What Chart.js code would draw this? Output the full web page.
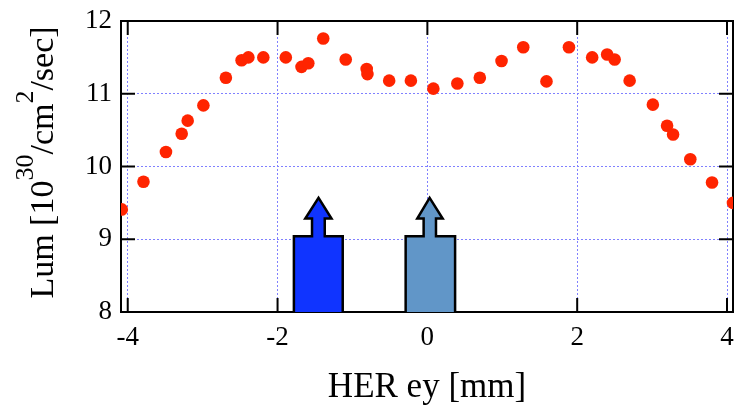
<!DOCTYPE html>
<html><head><meta charset="utf-8">
<script src="https://cdn.jsdelivr.net/npm/chart.js@4/dist/chart.umd.min.js"></script>
<style>html,body{margin:0;padding:0;background:#fff;} #wrap{width:737px;height:409px;}</style>
</head><body><div id="wrap"><canvas id="c" width="737" height="409"></canvas></div>
<script>
// ---- data ----
const herEy = [-4.08,-3.79,-3.49,-3.28,-3.20,-2.99,-2.69,-2.48,-2.39,-2.19,-1.89,-1.68,-1.59,-1.39,-1.09,-0.81,-0.80,-0.51,-0.22,0.08,0.40,0.70,0.99,1.28,1.59,1.89,2.20,2.40,2.50,2.70,3.01,3.20,3.28,3.51,3.80,4.08];
const lum   = [9.41,9.79,10.20,10.45,10.63,10.84,11.22,11.46,11.50,11.50,11.50,11.37,11.42,11.76,11.47,11.34,11.27,11.18,11.18,11.07,11.14,11.22,11.45,11.64,11.17,11.64,11.50,11.54,11.47,11.18,10.85,10.56,10.44,10.10,9.78,9.50];
const arrowAX = [-1.782,-1.782,-1.54,-1.54,-1.63,-1.453,-1.28,-1.37,-1.37,-1.13,-1.13];
const arrowAY = [8,9.04,9.04,9.285,9.285,9.57,9.285,9.285,9.04,9.04,8];
const arrowBX = [-0.29,-0.29,-0.05,-0.05,-0.135,0.03,0.204,0.115,0.115,0.37,0.37];
const arrowBY = [8,9.04,9.04,9.285,9.285,9.57,9.285,9.285,9.04,9.04,8];
const xTicks = [-4,-2,0,2,4];
const xTickLabels = ['-4','-2','0','2','4'];
const yTicks = [8,9,10,11,12];
const yTickLabels = ['8','9','10','11','12'];
const xTitle = 'HER ey [mm]';
const yTitleParts = [['Lum [10',0],['30',1],['/cm',0],['2',1],['/sec]',0]];

const pts = (xs, ys) => xs.map((v,i)=>({x:v,y:ys[i]}));
const FONT = 'Liberation Serif';

const framePlugin = {
  id:'frame',
  beforeDatasetsDraw(chart){
    const {ctx, chartArea:a, scales:{x,y}} = chart;
    ctx.save(); ctx.strokeStyle='#000'; ctx.lineWidth=2;
    ctx.strokeRect(a.left,a.top,a.right-a.left,a.bottom-a.top);
    ctx.beginPath();
    xTicks.forEach(v=>{const px=x.getPixelForValue(v);
      ctx.moveTo(px,a.bottom); ctx.lineTo(px,a.bottom-14);
      ctx.moveTo(px,a.top); ctx.lineTo(px,a.top+14);});
    yTicks.forEach(v=>{const py=y.getPixelForValue(v);
      ctx.moveTo(a.left,py); ctx.lineTo(a.left+14,py);
      ctx.moveTo(a.right,py); ctx.lineTo(a.right-14,py);});
    ctx.stroke(); ctx.restore();
  }
};
const yTitlePlugin = {
  id:'ytitle',
  afterDraw(chart){
    const ctx=chart.ctx; ctx.save();
    const main='34px "'+FONT+'"', sup='26px "'+FONT+'"';
    let total=0;
    const widths = yTitleParts.map(([t,s])=>{ctx.font=s?sup:main; const w=ctx.measureText(t).width; total+=w; return w;});
    const cy=(chart.chartArea.top+chart.chartArea.bottom)/2 - 4;
    ctx.translate(53, cy); ctx.rotate(-Math.PI/2);
    ctx.fillStyle='#000'; ctx.textBaseline='alphabetic'; ctx.textAlign='left';
    let xx=-total/2;
    yTitleParts.forEach(([t,s],i)=>{ctx.font=s?sup:main; ctx.fillText(t,xx,s?-20:0); xx+=widths[i];});
    ctx.restore();
  }
};

new Chart(document.getElementById('c'), {
  type:'line',
  data:{datasets:[
    {data:pts(herEy,lum), showLine:false, pointRadius:6.3, pointHoverRadius:6.3, pointBackgroundColor:'rgb(255,36,0)', pointBorderWidth:0, borderWidth:0, backgroundColor:'rgb(255,36,0)'},
    {data:pts(arrowAX,arrowAY), showLine:true, fill:'start', backgroundColor:'rgb(16,52,255)', borderColor:'#000', borderWidth:2.5, pointRadius:0, tension:0, borderJoinStyle:'miter'},
    {data:pts(arrowBX,arrowBY), showLine:true, fill:'start', backgroundColor:'rgb(97,150,200)', borderColor:'#000', borderWidth:2.5, pointRadius:0, tension:0, borderJoinStyle:'miter'}
  ]},
  options:{
    responsive:false, animation:false, devicePixelRatio:1,
    layout:{autoPadding:false, padding:{top:21,right:4,bottom:0,left:0}},
    plugins:{legend:{display:false}, tooltip:{enabled:false}},
    scales:{
      x:{type:'linear', min:-4.09, max:4.08,
        afterBuildTicks:s=>{s.ticks=xTicks.map(v=>({value:v}));},
        afterFit:s=>{s.height=97; s.paddingLeft=0; s.paddingRight=0;},
        grid:{color:'rgb(128,128,255)', lineWidth:1, drawTicks:false},
        border:{display:false, dash:[2,2]},
        ticks:{font:{family:FONT,size:27}, color:'#000', padding:10, maxRotation:0,
          callback:(v)=>xTickLabels[xTicks.indexOf(v)]},
        title:{display:true, text:xTitle, color:'#000', font:{family:FONT,size:35,lineHeight:1.2}, padding:{top:0,bottom:0}}
      },
      y:{type:'linear', min:8, max:12,
        afterBuildTicks:s=>{s.ticks=yTicks.map(v=>({value:v}));},
        afterFit:s=>{s.width=121; s.paddingTop=0; s.paddingBottom=0;},
        grid:{color:'rgb(128,128,255)', lineWidth:1, drawTicks:false},
        border:{display:false, dash:[2,2]},
        ticks:{font:{family:FONT,size:27}, color:'#000', padding:9,
          callback:(v)=>yTickLabels[yTicks.indexOf(v)]}
      }
    }
  },
  plugins:[framePlugin, yTitlePlugin]
});
</script></body></html>
